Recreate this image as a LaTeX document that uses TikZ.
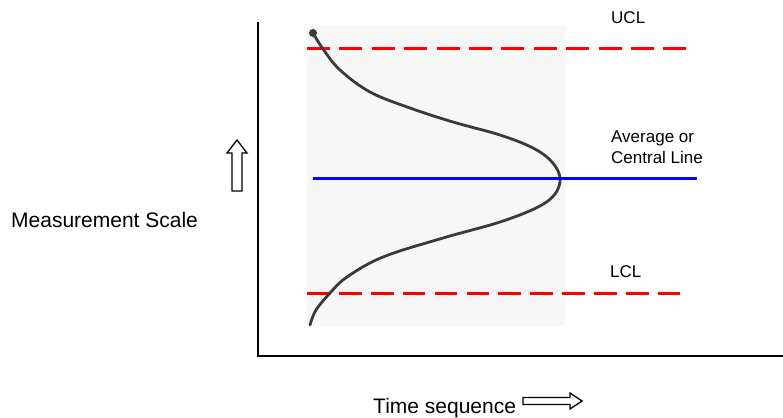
\documentclass[tikz,border=0pt]{standalone}
\usepackage{fontspec}
\setmainfont{Liberation Sans}
\definecolor{curvegray}{HTML}{3A3A3A}
\definecolor{bggray}{HTML}{F7F7F7}
\tikzset{
  axis/.style={line width=2pt, black},
  limit/.style={line width=3pt, red},
  centre/.style={line width=3pt, blue},
  bell/.style={line width=2.8pt, curvegray, line cap=round},
  lbl/.style={font=\fontsize{17}{21}\selectfont, inner sep=0pt, anchor=west},
  biglbl/.style={font=\fontsize{21}{24}\selectfont, inner sep=0pt, anchor=west},
  hollow/.style={draw=black, fill=white, line width=1.3pt, line join=miter},
}
\begin{document}
\begin{tikzpicture}[x=1pt,y=-1pt]
\useasboundingbox (0,0) rectangle (783,417);
\fill[bggray] (307,25) rectangle (565,326);
% axes
\coordinate (top) at (258,22);
\coordinate (origin) at (258,356);
\coordinate (right) at (783,356);
\draw[axis] (top) -- (origin) -- (right);
% limits
\coordinate (u1) at (307,49); \coordinate (u2) at (688,49);
\coordinate (l1) at (307,293); \coordinate (l2) at (680,293);
\coordinate (c1) at (313,178); \coordinate (c2) at (697,178);
\draw[limit, dash pattern=on 23pt off 9.4pt] (u1) -- (u2);
\draw[limit, dash pattern=on 22.7pt off 9.2pt] (l1) -- (l2);
\draw[bell] plot[smooth, tension=0.6] coordinates {(313,33) (323,49) (340,70) (370,92) (410,108) (453,122) (500,135) (533,148) (552,162) (560,178) (555,194) (538,207) (500,222) (443,238) (383,257) (347,277) (330,293) (316,310) (310,325)};
\fill[curvegray] (313,33) circle (4);
\draw[centre] (c1) -- (c2);
% labels
\node[lbl] (ucl) at (611,18) {UCL};
\node[lbl, align=left] (avg) at (611,147) {Average or\\Central Line};
\node[lbl] (lcl) at (610,272) {LCL};
\node[biglbl] (meas) at (11,220) {Measurement Scale};
\node[biglbl] (time) at (373,408) {Time sequence};
% hollow arrows
\draw[hollow] (237,140) -- (247,153) -- (242,153) -- (242,191) -- (232,191) -- (232,153) -- (227,153) -- cycle;
\draw[hollow] (582,401) -- (570,409) -- (570,404.5) -- (523,404.5) -- (523,397.5) -- (570,397.5) -- (570,393) -- cycle;
\end{tikzpicture}
\end{document}
